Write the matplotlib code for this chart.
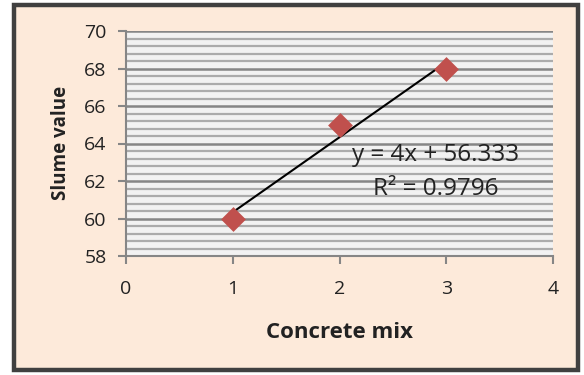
import matplotlib
matplotlib.use("Agg")
import matplotlib.pyplot as plt
from matplotlib.patches import Rectangle
from matplotlib.ticker import MultipleLocator
import numpy as np

x_vals = [1, 2, 3]
y_vals = [60, 65, 68]
x_ticks = [0, 1, 2, 3, 4]
y_ticks = [58, 60, 62, 64, 66, 68, 70]
eq_text = "y = 4x + 56.333"
r2_text = "R² = 0.9796"

plt.rcParams['font.family'] = ['Open Sans', 'DejaVu Sans']

fig = plt.figure(figsize=(5.84, 3.75), dpi=100, facecolor='white')
fig.patches.append(Rectangle((14/584, 5/375), 564/584, 365/375, transform=fig.transFigure,
                             facecolor='#FDEADA', edgecolor='#404040', linewidth=3.2, zorder=-10))

ax = fig.add_axes([126/584, (375-256)/375, 427/584, 225/375])
ax.set_facecolor('#F2F2F2')
ax.set_xlim(0, 4)
ax.set_ylim(58, 70)
ax.set_xticks(x_ticks)
ax.set_yticks(y_ticks)
ax.yaxis.set_minor_locator(MultipleLocator(0.4))
ax.grid(which='minor', axis='y', color='#ABABAB', linewidth=1.6)
ax.grid(which='major', axis='y', color='#868686', linewidth=1.8)
ax.set_axisbelow(True)
for s in ['top', 'right']:
    ax.spines[s].set_visible(False)
for s in ['left', 'bottom']:
    ax.spines[s].set_color('#868686')
    ax.spines[s].set_linewidth(1.5)
ax.tick_params(which='major', direction='out', length=6, width=1.5, color='#868686',
               labelsize=14, labelcolor='#222222')
ax.tick_params(axis='y', pad=8)
ax.tick_params(axis='x', pad=11)
ax.tick_params(which='minor', length=0)

# trendline
coef = np.polyfit(x_vals, y_vals, 1)
xf = np.array([min(x_vals), max(x_vals)])
ax.plot(xf, np.polyval(coef, xf), color='black', linewidth=1.5, zorder=3)
ax.scatter(x_vals, y_vals, marker='D', s=160, color='#C0504D', zorder=4, linewidths=0)

ax.text(2.90, 63.39, eq_text, fontsize=17.5, ha='center', va='center', color='#222222', zorder=5)
ax.text(2.90, 61.57, r2_text, fontsize=17.5, ha='center', va='center', color='#222222', zorder=5)

fig.text(61/584, 1-143/375, 'Slume value', rotation=90, ha='center', va='center',
         fontsize=13.5, fontweight='bold', color='#222222')
fig.text(340/584, 1-333/375, 'Concrete mix', ha='center', va='center',
         fontsize=16, fontweight='bold', color='#222222')

fig.savefig('out.png', dpi=100, facecolor='white')
